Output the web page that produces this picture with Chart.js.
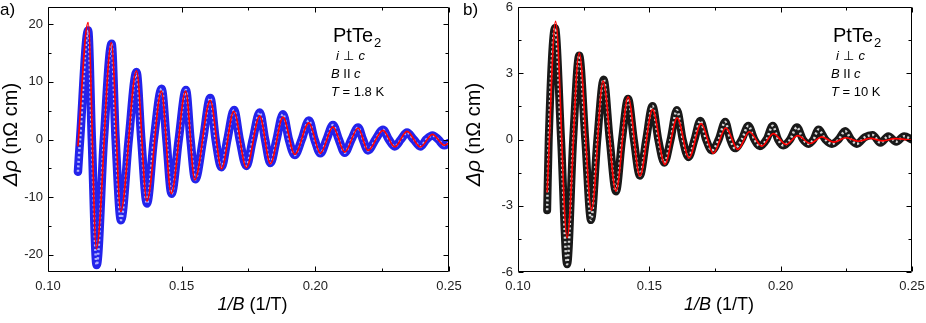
<!DOCTYPE html>
<html><head><meta charset="utf-8">
<script src="https://cdn.jsdelivr.net/npm/chart.js@4/dist/chart.umd.min.js"></script>
<style>
html,body{margin:0;padding:0;background:#fff;}
#wrap{position:relative;width:926px;height:323px;overflow:hidden;}
.pane{position:absolute;top:0;width:463px;height:323px;}
canvas{display:block;}
</style></head><body>
<div id="wrap">
<div class="pane" style="left:0"><canvas id="ca" width="463" height="323"></canvas></div>
<div class="pane" style="left:463px"><canvas id="cb" width="463" height="323"></canvas></div>
</div>
<script>
// ---------- tick labels ----------
const xTicks = [0.10, 0.15, 0.20, 0.25];
const aYTicks = [-20, -10, 0, 10, 20];
const bYTicks = [-6, -3, 0, 3, 6];
const aYRange = [-23, 23];
const bYRange = [-6, 6];

// ---------- panel a) T = 1.8 K : measured data (blue circles) ----------
const aDataX = [0.1112,0.1120,0.1150,0.1164,0.1182,0.1209,0.1238,0.1253,0.1273,0.1302,0.1331,0.1349,0.1370,0.1396,0.1425,0.1443,0.1462,0.1489,0.1516,0.1533,0.1551,0.1580,0.1607,0.1627,0.1649,0.1671,0.1696,0.1717,0.1742,0.1766,0.1792,0.1812,0.1832,0.1855,0.1879,0.1901,0.1923,0.1949,0.1976,0.1997,0.2019,0.2042,0.2066,0.2088,0.2110,0.2135,0.2160,0.2178,0.2197,0.2225,0.2253,0.2275,0.2297,0.2320,0.2343,0.2368,0.2393,0.2415,0.2438,0.2460,0.2482,0.2500];
const aDataY = [-5.6,0.0,18.9,0.0,-21.8,0.0,16.6,0.0,-14.0,0.0,11.7,0.0,-11.1,0.0,8.8,0.0,-9.4,0.0,8.6,0.0,-6.9,0.0,7.2,0.0,-4.8,0.0,5.1,0.0,-4.6,0.0,4.7,0.0,-4.1,0.0,4.4,0.0,-2.7,0.0,3.3,0.0,-2.4,0.0,2.5,0.0,-2.3,0.0,2.1,0.0,-1.9,0.0,1.7,0.0,-1.2,0.0,1.2,0.0,-1.2,0.0,0.7,0.0,-1.0,-0.6];
// ---------- panel a) fit (red line) ----------
const aFitX = [0.1112,0.1150,0.1181,0.1237,0.1272,0.1331,0.1370,0.1424,0.1461,0.1515,0.1549,0.1607,0.1649,0.1695,0.1742,0.1792,0.1832,0.1879,0.1923,0.1976,0.2019,0.2066,0.2110,0.2160,0.2197,0.2253,0.2297,0.2343,0.2393,0.2438,0.2482,0.2500];
const aFitY = [-1.2,20.3,-19.0,16.8,-12.5,11.9,-10.7,8.4,-9.4,8.4,-7.0,6.8,-5.1,4.9,-4.9,4.1,-4.2,3.9,-2.6,2.9,-2.4,2.2,-2.2,2.0,-1.9,1.6,-1.3,1.4,-1.3,0.9,-1.0,-0.6];

// ---------- panel b) T = 10 K : measured data (black circles) ----------
const bDataX = [0.1111,0.1117,0.1141,0.1164,0.1187,0.1210,0.1233,0.1256,0.1278,0.1302,0.1326,0.1349,0.1373,0.1396,0.1419,0.1441,0.1464,0.1488,0.1512,0.1534,0.1557,0.1581,0.1605,0.1627,0.1649,0.1672,0.1694,0.1716,0.1738,0.1764,0.1789,0.1808,0.1826,0.1852,0.1877,0.1900,0.1921,0.1946,0.1970,0.1990,0.2010,0.2036,0.2062,0.2085,0.2106,0.2125,0.2144,0.2170,0.2195,0.2220,0.2246,0.2268,0.2290,0.2320,0.2350,0.2380,0.2410,0.2440,0.2470,0.2500];
const bDataY = [-3.2,0.0,5.05,0.0,-5.65,0.0,3.8,0.0,-3.65,0.0,2.72,0.0,-2.35,0.0,1.85,0.0,-1.64,0.0,1.52,0.0,-1.05,0.0,1.34,0.0,-0.80,0.0,0.85,0.0,-0.50,0.0,0.80,0.0,-0.40,0.0,0.62,0.0,-0.30,0.0,0.62,0.0,-0.27,0.0,0.55,0.0,-0.20,0.0,0.45,0.0,-0.20,0.0,0.38,0.0,-0.20,0.10,0.20,-0.15,0.15,-0.10,0.15,0.0];
// ---------- panel b) fit (red line) ----------
const bFitX = [0.1111,0.1143,0.1187,0.1233,0.1280,0.1324,0.1373,0.1419,0.1464,0.1512,0.1559,0.1606,0.1651,0.1697,0.1744,0.1791,0.1837,0.1881,0.1928,0.1972,0.2021,0.2065,0.2112,0.2157,0.2201,0.2249,0.2296,0.2341,0.2389,0.2434,0.2500];
const bFitY = [-2.4,5.35,-4.45,3.92,-3.2,2.64,-2.34,1.93,-1.66,1.36,-1.13,0.98,-0.83,0.72,-0.63,0.53,-0.45,0.35,-0.30,0.27,-0.23,0.18,-0.18,0.12,-0.12,0.08,-0.08,0.05,-0.06,0.04,-0.03];

const FONT = '"Liberation Sans", Arial, Helvetica, sans-serif';
const toXY = (xs, ys) => xs.map((x, i) => ({x: x, y: ys[i]}));

function drawRich(ctx, x, y, segs, align) {
  let w = 0;
  segs.forEach(s => { ctx.font = s.f; w += ctx.measureText(s.t).width; });
  let cx = align === 'center' ? x - w / 2 : x;
  segs.forEach(s => {
    ctx.font = s.f;
    ctx.fillText(s.t, cx, y + (s.dy || 0));
    cx += ctx.measureText(s.t).width;
  });
}

function minorize(ticks) {
  const out = [];
  ticks.forEach((v, i) => {
    out.push([v, true]);
    if (i < ticks.length - 1) out.push([(v + ticks[i + 1]) / 2, false]);
  });
  return out;
}

function makeDecor(cfg) {
  return {
    id: 'decor_' + cfg.panel.charAt(0),
    afterDraw(chart) {
      const ctx = chart.ctx, ca = chart.chartArea, xs = chart.scales.x, ys = chart.scales.y;
      const L = Math.round(ca.left) + 0.5, R = Math.round(ca.right) - 0.5;
      const T = Math.round(ca.top) + 0.5, B = Math.round(ca.bottom) - 0.5;
      ctx.save();
      // frame
      ctx.strokeStyle = '#000'; ctx.lineWidth = 1;
      ctx.beginPath();
      ctx.rect(L, T, R - L, B - T);
      ctx.stroke();
      // inward ticks on all four sides
      ctx.beginPath();
      minorize(xTicks).forEach(([v, maj]) => {
        const p = Math.round(xs.getPixelForValue(v)) + 0.5;
        const len = maj ? 5 : 3;
        ctx.moveTo(p, B); ctx.lineTo(p, B - len);
        ctx.moveTo(p, T); ctx.lineTo(p, T + len);
      });
      minorize(cfg.yt).forEach(([v, maj]) => {
        const p = Math.round(ys.getPixelForValue(v)) + 0.5;
        const len = maj ? 5 : 3;
        ctx.moveTo(L, p); ctx.lineTo(L + len, p);
        ctx.moveTo(R, p); ctx.lineTo(R - len, p);
      });
      ctx.stroke();

      ctx.fillStyle = '#000';
      ctx.textBaseline = 'alphabetic';
      ctx.textAlign = 'left';
      // panel label
      ctx.font = '17px ' + FONT;
      ctx.fillText(cfg.panel, 0, 15);
      // x title
      const xc = (ca.left + ca.right) / 2 + 4;
      drawRich(ctx, xc, 310, [
        {t: '1/B', f: 'italic 18px ' + FONT},
        {t: ' (1/T)', f: '18px ' + FONT}
      ], 'center');
      // y title
      ctx.save();
      ctx.translate(17, (ca.top + ca.bottom) / 2 - 5);
      ctx.rotate(-Math.PI / 2);
      drawRich(ctx, 0, 0, [
        {t: '\u0394\u03C1', f: 'italic 21px ' + FONT},
        {t: ' (n\u03A9 cm)', f: '20px ' + FONT}
      ], 'center');
      ctx.restore();
      // annotation
      const ax = cfg.annX;
      ctx.font = '20px ' + FONT;
      ctx.fillText('PtTe', ax, 42);
      const w = ctx.measureText('PtTe').width;
      ctx.font = '13px ' + FONT;
      ctx.fillText('2', ax + w + 1, 47);
      drawRich(ctx, ax + 3, 60, [
        {t: 'i', f: 'italic 13px ' + FONT},
        {t: ' \u22A5 ', f: '13px "DejaVu Sans", ' + FONT},
        {t: 'c', f: 'italic 13px ' + FONT}
      ]);
      drawRich(ctx, ax - 2, 78, [
        {t: 'B', f: 'italic 13px ' + FONT},
        {t: ' II ', f: '13px ' + FONT},
        {t: 'c', f: 'italic 13px ' + FONT}
      ]);
      drawRich(ctx, ax - 2, 96, [
        {t: 'T', f: 'italic 13px ' + FONT},
        {t: ' = ' + cfg.temp, f: '13px ' + FONT}
      ]);
      ctx.restore();
    }
  };
}

function makeChart(id, cfg) {
  return new Chart(document.getElementById(id), {
    type: 'scatter',
    data: {
      datasets: [
        // fit curve (top)
        { data: toXY(cfg.fx, cfg.fy), showLine: true, borderColor: '#ff0000', borderWidth: 1.7,
          pointRadius: 0, cubicInterpolationMode: 'monotone', clip: 0, order: 1 },
        // hollow interiors of the overlapping data circles
        { data: toXY(cfg.dx, cfg.dy), showLine: true, borderColor: cfg.inner, borderWidth: 2.5,
          borderDash: [2, 2.5], pointRadius: 0, cubicInterpolationMode: 'monotone', clip: 0, order: 2 },
        // rims of the overlapping data circles
        { data: toXY(cfg.dx, cfg.dy), showLine: true, borderColor: cfg.band, borderWidth: cfg.bw,
          pointRadius: 0, cubicInterpolationMode: 'monotone', borderJoinStyle: 'round',
          borderCapStyle: 'round', clip: 0, order: 3 }
      ]
    },
    options: {
      responsive: false, animation: false, devicePixelRatio: 1,
      layout: { padding: { left: 0, right: cfg.padR, top: cfg.padT, bottom: 0 } },
      plugins: { legend: { display: false }, tooltip: { enabled: false } },
      scales: {
        x: {
          type: 'linear', min: 0.10, max: 0.25,
          afterBuildTicks: s => { s.ticks = xTicks.map(v => ({ value: v })); },
          afterFit: s => { s.height = 51; s.paddingLeft = 0; s.paddingRight = 0; },
          ticks: { callback: v => v.toFixed(2), font: { family: FONT, size: 13 }, color: '#222',
                   padding: 7, maxRotation: 0, autoSkip: false },
          grid: { display: false, drawTicks: false, tickLength: 0 },
          border: { display: false }
        },
        y: {
          type: 'linear', min: cfg.yr[0], max: cfg.yr[1],
          afterBuildTicks: s => { s.ticks = cfg.yt.map(v => ({ value: v })); },
          afterFit: s => { s.width = cfg.yw; s.paddingTop = 0; s.paddingBottom = 0; },
          ticks: { callback: v => String(v), font: { family: FONT, size: 13 }, color: '#222',
                   padding: 5, autoSkip: false },
          grid: { display: false, drawTicks: false, tickLength: 0 },
          border: { display: false }
        }
      }
    },
    plugins: [makeDecor(cfg)]
  });
}

makeChart('ca', {
  dx: aDataX, dy: aDataY, fx: aFitX, fy: aFitY, bw: 8.5,
  band: 'rgb(35,35,235)', inner: 'rgba(200,200,255,0.85)',
  yt: aYTicks, yr: aYRange, yw: 48, padR: 14, padT: 7, panel: 'a)', annX: 333, temp: '1.8 K'
});
makeChart('cb', {
  dx: bDataX, dy: bDataY, fx: bFitX, fy: bFitY, bw: 8,
  band: 'rgb(25,25,25)', inner: 'rgba(235,235,235,0.9)',
  yt: bYTicks, yr: bYRange, yw: 55, padR: 14, padT: 7, panel: 'b)', annX: 370, temp: '10 K'
});
</script>
</body></html>
